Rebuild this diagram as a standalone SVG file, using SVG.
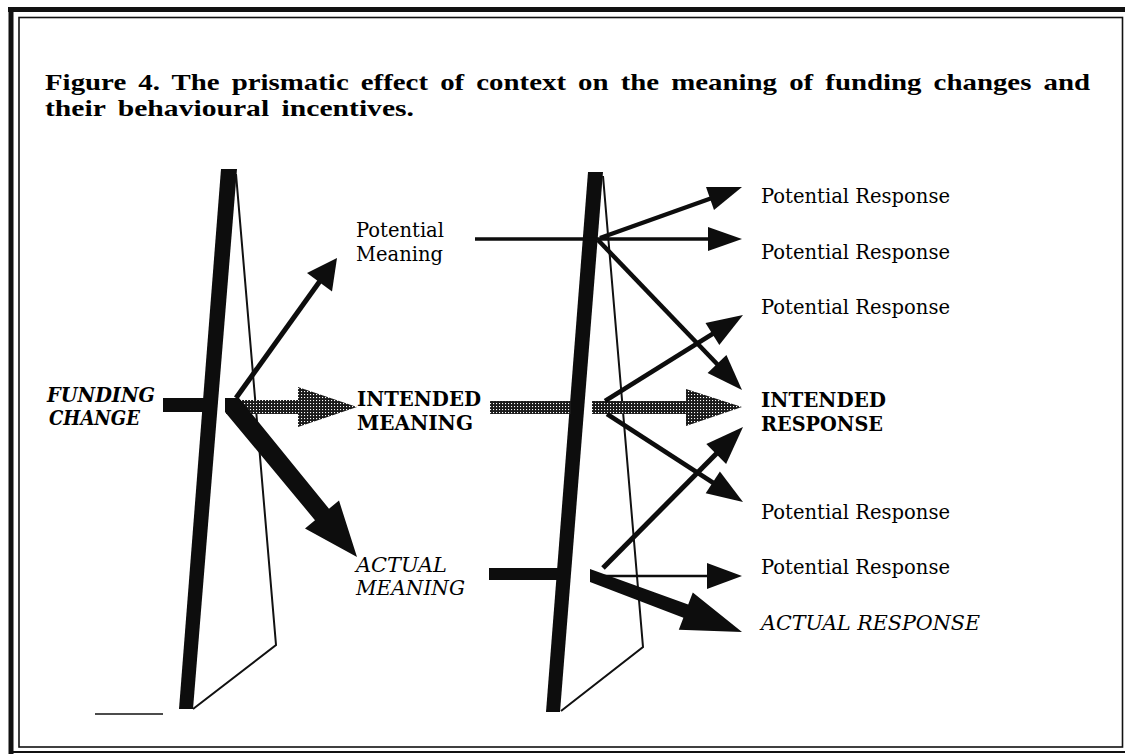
<svg xmlns="http://www.w3.org/2000/svg" width="1125" height="754" viewBox="0 0 1125 754">
<style>
.title{font-family:"Liberation Serif",serif;font-weight:bold;font-size:23.5px;fill:#000;word-spacing:4px}
.lbl{font-family:"DejaVu Serif","Liberation Serif",serif;font-size:19.5px;fill:#000}
.b{font-weight:bold}
.i{font-style:italic}
.bar{fill:#0d0d0d}
.thin{fill:none;stroke:#111;stroke-width:2;stroke-linejoin:miter}
.shaft{stroke:#0d0d0d;fill:none}
.head{fill:#0d0d0d}
.hatch{fill:url(#hp)}
</style>
<defs>
<pattern id="hp" width="3" height="3" patternUnits="userSpaceOnUse">
<rect width="3" height="3" fill="#1a1a1a"/>
<rect x="1" y="1" width="1.1" height="1.1" fill="#fff"/>
</pattern>
</defs>
<rect width="1125" height="754" fill="#fff"/>
<g id="frame">
<line x1="8" y1="9.5" x2="1125" y2="9.5" stroke="#111" stroke-width="5"/>
<line x1="11" y1="7" x2="11" y2="754" stroke="#111" stroke-width="5"/>
<line x1="9" y1="752" x2="1125" y2="752" stroke="#111" stroke-width="2"/>
<rect x="19" y="17.5" width="1103.5" height="729.5" fill="none" stroke="#111" stroke-width="1.6"/>
</g>
<g id="title">
<text class="title" x="45" y="90" textLength="1045" lengthAdjust="spacingAndGlyphs">Figure 4.  The prismatic effect of context on the meaning of funding changes and</text>
<text class="title" x="45" y="116" textLength="369" lengthAdjust="spacingAndGlyphs">their behavioural incentives.</text>
</g>
<g id="prism-left">
<polygon class="bar" points="221,169 237,169 193,709 179,709"/>
<polyline class="thin" points="236,174 276,645 193,709"/>
<line x1="95" y1="714" x2="163" y2="714" stroke="#111" stroke-width="1.5"/>
</g>
<g id="prism-right">
<polygon class="bar" points="588,172 603,172 560,712 546,712"/>
<polyline class="thin" points="603,176 643,647 561,711"/>
</g>
<g id="funding-change">
<text class="lbl i b" x="47" y="402" textLength="108" lengthAdjust="spacingAndGlyphs">FUNDING</text>
<text class="lbl i b" x="49" y="425" textLength="91" lengthAdjust="spacingAndGlyphs">CHANGE</text>
</g>
<g id="potential-meaning">
<text class="lbl" x="356" y="237" textLength="88" lengthAdjust="spacingAndGlyphs">Potential</text>
<text class="lbl" x="356" y="261">Meaning</text>
</g>
<g id="intended-meaning">
<text class="lbl b" x="357" y="406" textLength="124" lengthAdjust="spacingAndGlyphs">INTENDED</text>
<text class="lbl b" x="357" y="430" textLength="116" lengthAdjust="spacingAndGlyphs">MEANING</text>
</g>
<g id="actual-meaning">
<text class="lbl i" x="356" y="572" textLength="91" lengthAdjust="spacingAndGlyphs">ACTUAL</text>
<text class="lbl i" x="356" y="595" textLength="109" lengthAdjust="spacingAndGlyphs">MEANING</text>
</g>
<g id="response-1"><text class="lbl" x="761" y="203" textLength="189" lengthAdjust="spacingAndGlyphs">Potential Response</text></g>
<g id="response-2"><text class="lbl" x="761" y="259" textLength="189" lengthAdjust="spacingAndGlyphs">Potential Response</text></g>
<g id="response-3"><text class="lbl" x="761" y="314" textLength="189" lengthAdjust="spacingAndGlyphs">Potential Response</text></g>
<g id="intended-response">
<text class="lbl b" x="761" y="407" textLength="125" lengthAdjust="spacingAndGlyphs">INTENDED</text>
<text class="lbl b" x="761" y="431" textLength="122" lengthAdjust="spacingAndGlyphs">RESPONSE</text>
</g>
<g id="response-4"><text class="lbl" x="761" y="519" textLength="189" lengthAdjust="spacingAndGlyphs">Potential Response</text></g>
<g id="response-5"><text class="lbl" x="761" y="574" textLength="189" lengthAdjust="spacingAndGlyphs">Potential Response</text></g>
<g id="actual-response"><text class="lbl i" x="761" y="630" textLength="219" lengthAdjust="spacingAndGlyphs">ACTUAL RESPONSE</text></g>
<g id="connectors">
<rect class="bar" x="163" y="398" width="41" height="14"/>
<line class="shaft" x1="236" y1="398" x2="320" y2="281" stroke-width="5"/>
<polygon class="head" points="337,258 332,291.5 307,273"/>
<polygon class="hatch" points="226,400 298,400 298,387 357,407 298,427 298,414 226,414"/>
<polygon class="bar" points="225,398 239,398 329,508.8 339,500.6 357,557 305,528.4 315,520.2 225,412"/>
<line class="shaft" x1="475" y1="239" x2="710" y2="239" stroke-width="3.5"/>
<polygon class="head" points="708,227 742,239 708,251"/>
<line class="shaft" x1="600" y1="238" x2="712" y2="198" stroke-width="4.5"/>
<polygon class="head" points="742,187 714,210 706,187"/>
<line class="shaft" x1="598" y1="240" x2="719" y2="366" stroke-width="4.5"/>
<polygon class="head" points="742,390 707.6,373 726.4,355"/>
<rect class="hatch" x="490" y="401" width="81" height="13"/>
<polygon class="hatch" points="592,401 686,401 686,389 742,407 686,426 686,414 592,414"/>
<line class="shaft" x1="605" y1="401" x2="714" y2="333" stroke-width="4.5"/>
<polygon class="head" points="743,315 719.3,345 705.5,323"/>
<line class="shaft" x1="607" y1="414" x2="715" y2="484" stroke-width="4.5"/>
<polygon class="head" points="743,502 705.7,493.3 719.9,471.5"/>
<rect class="bar" x="489" y="568" width="70" height="12"/>
<line class="shaft" x1="603" y1="568" x2="718" y2="452" stroke-width="5"/>
<polygon class="head" points="743,427 726.1,463.9 706.3,444.1"/>
<line class="shaft" x1="595" y1="576" x2="709" y2="576" stroke-width="2.5"/>
<polygon class="head" points="707,563 742,576 707,589"/>
<polygon class="bar" points="590,569 688.2,604.5 692.8,592.4 742,632 678.8,629.8 683.4,617.7 590,582"/>
</g>
</svg>
